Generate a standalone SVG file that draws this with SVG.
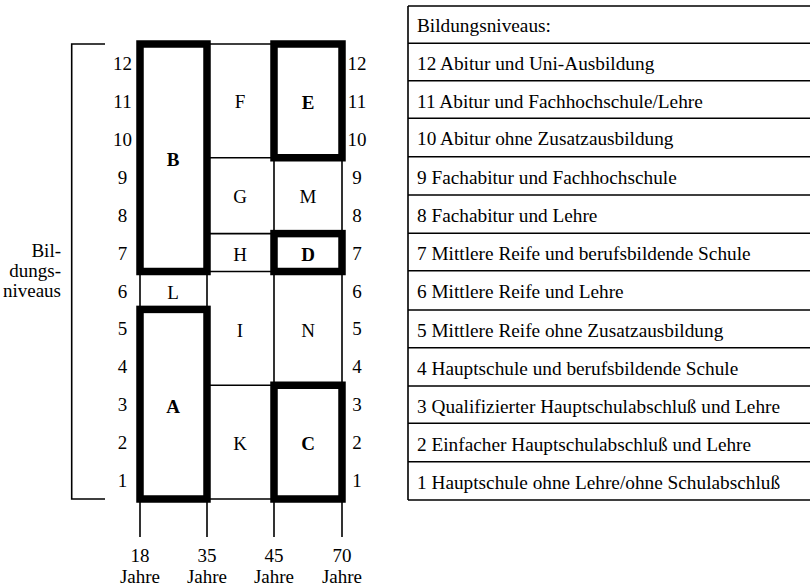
<svg xmlns="http://www.w3.org/2000/svg" width="810" height="587" viewBox="0 0 810 587" font-family="'Liberation Serif', 'DejaVu Serif', serif">
<style>
text{font-family:'Liberation Serif','DejaVu Serif',serif;font-size:19px;fill:#000}
.c{text-anchor:middle}
.b{font-weight:bold}
.lg{font-size:19.3px}
.thin{stroke:#000;stroke-width:1.6;fill:none}
.thick{stroke:#000;stroke-width:7.5;fill:none}
.tbl{stroke:#000;stroke-width:1.6;fill:none}
</style>
<rect width="810" height="587" fill="#fff"/>

<g id="connectors">
  <path class="thin" d="M105,44 H71.7 V499 H105" stroke-width="2"/>
  <path class="thin" d="M207,44 H274 M207,157.75 H274 M207,233.6 H274 M207,271.5 H274 M207,385.25 H274 M207,499 H274"/>
  <path class="thin" d="M274,157.75 V385.25 M342,157.75 V385.25 M140,271.5 V309.4 M207,271.5 V309.4 M274,271.5 H342"/>
  <path class="thin" d="M140,499 V537 M207,499 V537 M274,499 V537 M342,499 V537" stroke-width="2"/>
</g>

<g id="axis-left">
  <text class="c" x="122.5" y="70">12</text>
  <text class="c" x="122.5" y="107.9">11</text>
  <text class="c" x="122.5" y="145.8">10</text>
  <text class="c" x="122.5" y="183.7">9</text>
  <text class="c" x="122.5" y="221.7">8</text>
  <text class="c" x="122.5" y="259.6">7</text>
  <text class="c" x="122.5" y="297.5">6</text>
  <text class="c" x="122.5" y="335.4">5</text>
  <text class="c" x="122.5" y="373.4">4</text>
  <text class="c" x="122.5" y="411.3">3</text>
  <text class="c" x="122.5" y="449.2">2</text>
  <text class="c" x="122.5" y="487.1">1</text>
</g>
<g id="axis-right">
  <text class="c" x="357" y="70">12</text>
  <text class="c" x="357" y="107.9">11</text>
  <text class="c" x="357" y="145.8">10</text>
  <text class="c" x="357" y="183.7">9</text>
  <text class="c" x="357" y="221.7">8</text>
  <text class="c" x="357" y="259.6">7</text>
  <text class="c" x="357" y="297.5">6</text>
  <text class="c" x="357" y="335.4">5</text>
  <text class="c" x="357" y="373.4">4</text>
  <text class="c" x="357" y="411.3">3</text>
  <text class="c" x="357" y="449.2">2</text>
  <text class="c" x="357" y="487.1">1</text>
</g>
<g id="axis-label">
  <text x="61" y="257" text-anchor="end">Bil-</text>
  <text x="61" y="277" text-anchor="end">dungs-</text>
  <text x="61" y="297" text-anchor="end">niveaus</text>
</g>
<g id="axis-bottom">
  <text class="c" x="140" y="562">18</text>
  <text class="c" x="207" y="562">35</text>
  <text class="c" x="274" y="562">45</text>
  <text class="c" x="342" y="562">70</text>
  <text class="c" x="140" y="583">Jahre</text>
  <text class="c" x="207" y="583">Jahre</text>
  <text class="c" x="274" y="583">Jahre</text>
  <text class="c" x="342" y="583">Jahre</text>
</g>

<g id="node-F"><text class="c" x="240" y="108">F</text></g>
<g id="node-G"><text class="c" x="240" y="203">G</text></g>
<g id="node-H"><text class="c" x="240" y="261">H</text></g>
<g id="node-I"><text class="c" x="240" y="337">I</text></g>
<g id="node-K"><text class="c" x="240" y="449.5">K</text></g>
<g id="node-L"><text class="c" x="173" y="299">L</text></g>
<g id="node-M"><text class="c" x="308" y="203">M</text></g>
<g id="node-N"><text class="c" x="308" y="337">N</text></g>

<g id="node-B"><rect class="thick" x="140" y="44" width="67" height="227.5"/><text class="c b" x="173" y="166">B</text></g>
<g id="node-E"><rect class="thick" x="274" y="44" width="68" height="113.75"/><text class="c b" x="308" y="108.5">E</text></g>
<g id="node-D"><rect class="thick" x="274" y="233.6" width="68" height="37.9"/><text class="c b" x="308" y="261">D</text></g>
<g id="node-A"><rect class="thick" x="140" y="309.4" width="67" height="189.6"/><text class="c b" x="173" y="413">A</text></g>
<g id="node-C"><rect class="thick" x="274" y="385.25" width="68" height="113.75"/><text class="c b" x="308" y="449.5">C</text></g>

<g id="legend">
  <path class="tbl" d="M408,6 V500 M408,6 H810 M408,43.3 H810 M408,80.7 H810 M408,118.3 H810 M408,156.7 H810 M408,195 H810 M408,233.3 H810 M408,270.7 H810 M408,310 H810 M408,347.7 H810 M408,386 H810 M408,423.3 H810 M408,461.7 H810 M408,500 H810"/>
  <text class="lg" x="417" y="31.5">Bildungsniveaus:</text>
  <text class="lg" x="417" y="70">12 Abitur und Uni-Ausbildung</text>
  <text class="lg" x="417" y="107.5">11 Abitur und Fachhochschule/Lehre</text>
  <text class="lg" x="417" y="145">10 Abitur ohne Zusatzausbildung</text>
  <text class="lg" x="417" y="183.5">9 Fachabitur und Fachhochschule</text>
  <text class="lg" x="417" y="221.8">8 Fachabitur und Lehre</text>
  <text class="lg" x="417" y="260">7 Mittlere Reife und berufsbildende Schule</text>
  <text class="lg" x="417" y="297.5">6 Mittlere Reife und Lehre</text>
  <text class="lg" x="417" y="336.5">5 Mittlere Reife ohne Zusatzausbildung</text>
  <text class="lg" x="417" y="374.5">4 Hauptschule und berufsbildende Schule</text>
  <text class="lg" x="417" y="412.5">3 Qualifizierter Hauptschulabschluß und Lehre</text>
  <text class="lg" x="417" y="450.5">2 Einfacher Hauptschulabschluß und Lehre</text>
  <text class="lg" x="417" y="488.5">1 Hauptschule ohne Lehre/ohne Schulabschluß</text>
</g>
</svg>
